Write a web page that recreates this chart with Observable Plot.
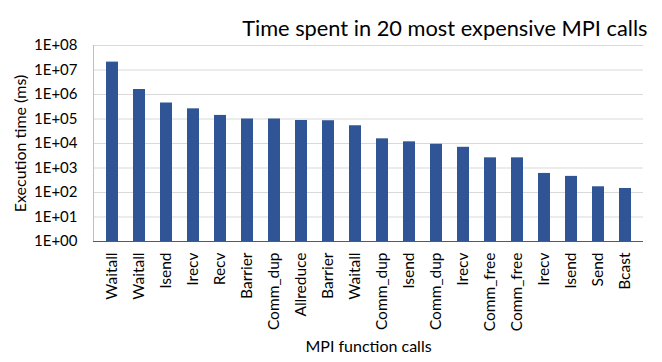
<!DOCTYPE html>
<html>
<head>
<meta charset="utf-8">
<script src="https://cdn.jsdelivr.net/npm/d3@7"></script>
<script src="https://cdn.jsdelivr.net/npm/@observablehq/plot@0.6"></script>
<style>
  html, body { margin: 0; padding: 0; background: #fff; }
  #chart { width: 662px; height: 362px; }
</style>
</head>
<body>
<div id="chart"></div>
<script>
const title = "Time spent in 20 most expensive MPI calls";
const yLabel = "Execution time (ms)";
const xLabel = "MPI function calls";
const calls = ["Waitall","Waitall","Isend","Irecv","Recv","Barrier","Comm_dup","Allreduce","Barrier","Waitall",
               "Comm_dup","Isend","Comm_dup","Irecv","Comm_free","Comm_free","Irecv","Isend","Send","Bcast"];
const times = [2.1e7, 1.6e6, 4.5e5, 2.6e5, 1.4e5, 1.0e5, 1.0e5, 8.7e4, 8.5e4, 5.3e4,
               1.55e4, 1.17e4, 9.3e3, 7.0e3, 2.6e3, 2.6e3, 600, 455, 171, 146];
const yTicks = [1, 10, 100, 1e3, 1e4, 1e5, 1e6, 1e7, 1e8];

const data = calls.map((c, i) => ({i, call: c, time: times[i]}));
const font = "Lato, 'Open Sans', sans-serif";

const plot = Plot.plot({
  width: 662,
  height: 362,
  marginLeft: 93,
  marginRight: 19,
  marginTop: 45,
  marginBottom: 121,
  style: {fontFamily: font, fontSize: "14px", color: "#000", background: "#fff"},
  x: {type: "band", domain: data.map(d => d.i), paddingInner: 0.56, paddingOuter: 0.28, axis: null},
  y: {type: "log", domain: [1, 1e8], axis: null},
  marks: [
    Plot.gridY(yTicks, {stroke: "#d9d9d9", strokeOpacity: 1}),
    Plot.axisY(yTicks, {tickSize: 0, tickPadding: 16, fontSize: 15, fill: "#000",
      tickFormat: d => "1E+" + String(Math.round(Math.log10(d))).padStart(2, "0"), label: null}),
    Plot.axisX({tickSize: 0, tickPadding: 11, tickRotate: -90, fontSize: 15.5, fill: "#000",
      tickFormat: i => calls[i], label: null}),
    Plot.barY(data, {x: "i", y1: 1, y2: "time", fill: "#2f5597"}),
    Plot.ruleY([1], {stroke: "#595959", strokeWidth: 1}),
    Plot.text([title], {frameAnchor: "top-right", dx: 4, dy: -25.3, fontSize: 21.8, textAnchor: "end", fill: "#000"}),
    Plot.text([yLabel], {frameAnchor: "left", dx: -73, rotate: -90, textAnchor: "middle", fontSize: 16, fill: "#000"}),
    Plot.text([xLabel], {frameAnchor: "bottom", dy: 110, textAnchor: "middle", fontSize: 16, fill: "#000"})
  ]
});
// left axis line drawn along the frame edge
const svg = d3.select(plot);
svg.append("line")
  .attr("x1", 93.5).attr("x2", 93.5).attr("y1", 45).attr("y2", 241)
  .attr("stroke", "#bfbfbf");
document.getElementById("chart").appendChild(plot);
</script>
</body>
</html>
